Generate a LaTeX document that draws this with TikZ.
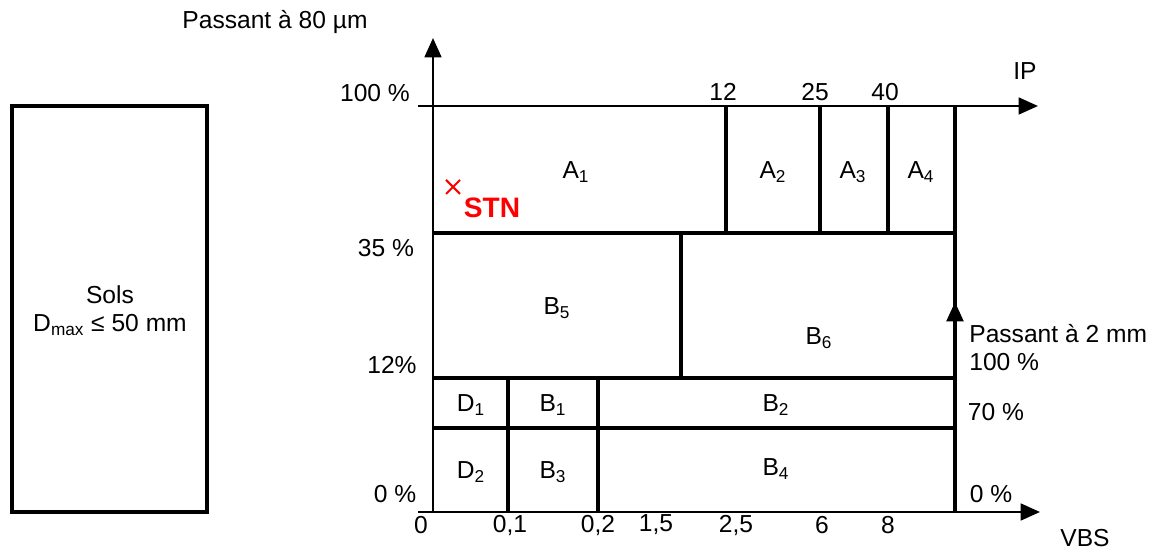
\documentclass[tikz,border=0pt]{standalone}
\usepackage{fontspec}
\setmainfont{Liberation Sans}
\usetikzlibrary{arrows.meta}
\definecolor{StnRed}{HTML}{FF0000}

\begin{document}
\begin{tikzpicture}[x=0.02cm, y=-0.02cm, >={Triangle[length=11pt,width=9.5pt]},
    lbl/.style={font=\fontsize{14}{16}\selectfont, inner sep=0pt},
    frame/.style={line width=1.8pt},
    axis/.style={line width=1.5pt}]
    \useasboundingbox (0,0) rectangle (1157,553);

    % ========== LEFT: SOILS BOX ==========
    \draw[frame] (12,106) rectangle (207,512);
    \node[lbl, align=center] (sols) at (110,311)
        {Sols\\D\textsubscript{max} ≤ 50 mm};

    % ========== RIGHT: CLASSIFICATION CHART ==========
    % Axes
    \draw[axis, ->] (433,512) -- (433,38);
    \draw[axis, ->] (418,106) -- (1038,106);
    \draw[axis, ->] (418,512) -- (1040,512);
    \draw[frame, ->] (955,512) -- (955,302);
    \draw[frame] (955,310) -- (955,106);

    % Horizontal class limits
    \draw[frame] (433,233) -- (955,233);
    \draw[frame] (433,378) -- (955,378);
    \draw[frame] (433,428) -- (955,428);

    % Vertical class limits
    \draw[frame] (726,106) -- (726,233);
    \draw[frame] (820,106) -- (820,233);
    \draw[frame] (888,106) -- (888,233);
    \draw[frame] (681,233) -- (681,378);
    \draw[frame] (508,378) -- (508,512);
    \draw[frame] (598,378) -- (598,512);

    % Axis titles
    \node[lbl] (titleY) at (275,22) {Passant à 80 µm};
    \node[lbl] (titleIP) at (1025,71) {IP};
    \node[lbl] (titleVBS) at (1085,538) {VBS};
    \node[lbl, align=left, anchor=west] (title2mm) at (969,348)
        {Passant à 2 mm\\100 \%};

    % Left scale
    \node[lbl] (y100) at (375,93) {100 \%};
    \node[lbl] (y35) at (386,248) {35 \%};
    \node[lbl] (y12) at (392,365) {12\%};
    \node[lbl] (y0) at (395,494) {0 \%};

    % Right scale
    \node[lbl] (r70) at (996,412) {70 \%};
    \node[lbl] (r0) at (991,494) {0 \%};

    % IP ticks
    \node[lbl] (ip12) at (723,92) {12};
    \node[lbl] (ip25) at (815,92) {25};
    \node[lbl] (ip40) at (885,92) {40};

    % VBS ticks
    \foreach \xx/\val in {421/0, 510/{0,1}, 598/{0,2}, 656/{1,5}, 736/{2,5}, 822/6, 888/8}
        \node[lbl] at (\xx,525) {\val};

    % Class names
    \node[lbl] (A1) at (576,172) {A\textsubscript{1}};
    \node[lbl] (A2) at (773,172) {A\textsubscript{2}};
    \node[lbl] (A3) at (853,172) {A\textsubscript{3}};
    \node[lbl] (A4) at (921,172) {A\textsubscript{4}};
    \node[lbl] (B5) at (557,308) {B\textsubscript{5}};
    \node[lbl] (B6) at (819,338) {B\textsubscript{6}};
    \node[lbl] (D1) at (471,405) {D\textsubscript{1}};
    \node[lbl] (B1) at (553,405) {B\textsubscript{1}};
    \node[lbl] (B2) at (776,405) {B\textsubscript{2}};
    \node[lbl] (D2) at (471,472) {D\textsubscript{2}};
    \node[lbl] (B3) at (553,472) {B\textsubscript{3}};
    \node[lbl] (B4) at (776,469) {B\textsubscript{4}};

    % STN point
    \coordinate (stnPt) at (453,187);
    \draw[StnRed, line width=1.2pt] ([shift={(-7,-7)}]stnPt) -- ([shift={(7,7)}]stnPt)
        ([shift={(-7,7)}]stnPt) -- ([shift={(7,-7)}]stnPt);
    \node[lbl, StnRed, font=\fontsize{16}{18}\selectfont\bfseries] (stn) at (492,208) {STN};

\end{tikzpicture}
\end{document}
